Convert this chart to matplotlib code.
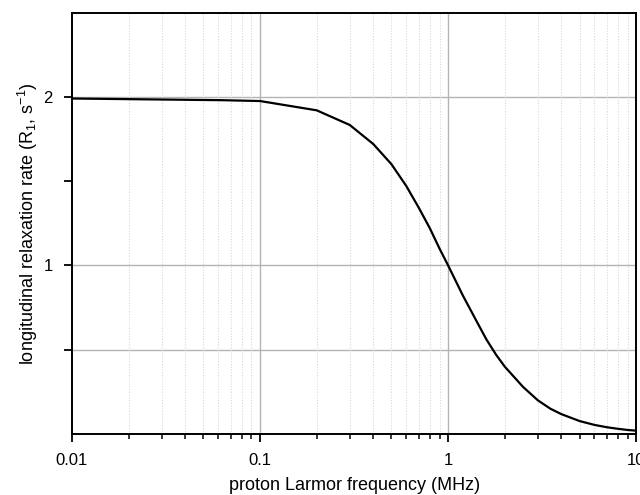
import numpy as np
import matplotlib.pyplot as plt
from matplotlib.ticker import LogLocator, FixedLocator, NullFormatter, FixedFormatter

plt.rcParams['font.family'] = ['Liberation Sans', 'DejaVu Sans']
plt.rcParams['mathtext.default'] = 'regular'

# values
freq_mhz = [0.01, 0.025, 0.063, 0.1, 0.2, 0.3, 0.4, 0.5, 0.6, 0.7, 0.8, 0.9,
            1.0, 1.2, 1.4, 1.6, 1.8, 2.0, 2.5, 3.0, 3.5, 4.0, 5.0, 6.0, 7.0,
            8.0, 9.0, 10.0]
r1 = [1.99, 1.985, 1.98, 1.975, 1.92, 1.833, 1.72, 1.60, 1.47, 1.34, 1.22,
      1.10, 1.00, 0.82, 0.68, 0.56, 0.47, 0.40, 0.28, 0.20, 0.15, 0.118,
      0.077, 0.054, 0.040, 0.031, 0.024, 0.02]

x_ticks = [0.01, 0.1, 1, 10]
x_labels = ["0.01", "0.1", "1", "10"]
y_ticks = [0.5, 1.0, 1.5, 2.0]
y_labels = ["", "1", "", "2"]
y_grid = [0.5, 1.0, 2.0]

fig = plt.figure(figsize=(6.4, 4.95), dpi=100)
ax = fig.add_axes([0.1125, 0.1232, 0.8815, 0.8515])

ax.set_xscale("log")
ax.set_xlim(0.01, 10)
ax.set_ylim(0, 2.5)

# grid
for yg in y_grid:
    ax.axhline(yg, color="#b4b4b4", lw=1.0, zorder=0)
for d in [0.01, 0.1, 1]:
    for m in range(2, 10):
        ax.axvline(d * m, color="#d8d8d8", lw=0.8, ls=(0, (1, 1.5)), zorder=0)
for xt in x_ticks[1:-1]:
    ax.axvline(xt, color="#b4b4b4", lw=1.0, zorder=0)

ax.plot(freq_mhz, r1, color="black", lw=1.6, zorder=3)

ax.xaxis.set_major_locator(FixedLocator(x_ticks))
ax.xaxis.set_major_formatter(FixedFormatter(x_labels))
ax.xaxis.set_minor_locator(LogLocator(base=10, subs=np.arange(2, 10)))
ax.xaxis.set_minor_formatter(NullFormatter())
ax.yaxis.set_major_locator(FixedLocator(y_ticks))
ax.yaxis.set_major_formatter(FixedFormatter(y_labels))
ax.yaxis.set_minor_locator(FixedLocator([]))

ax.tick_params(which="major", direction="out", length=6, width=1.3,
               labelsize=12, pad=8)
ax.tick_params(which="minor", direction="out", length=3.5, width=1.1)
for s in ax.spines.values():
    s.set_linewidth(1.4)

ax.set_xlabel("proton Larmor frequency (MHz)", fontsize=13, labelpad=6)
ax.set_ylabel("longitudinal relaxation rate (R$_1$, s$^{-1}$)", fontsize=13,
              labelpad=2)

fig.savefig("out.png", dpi=100)
